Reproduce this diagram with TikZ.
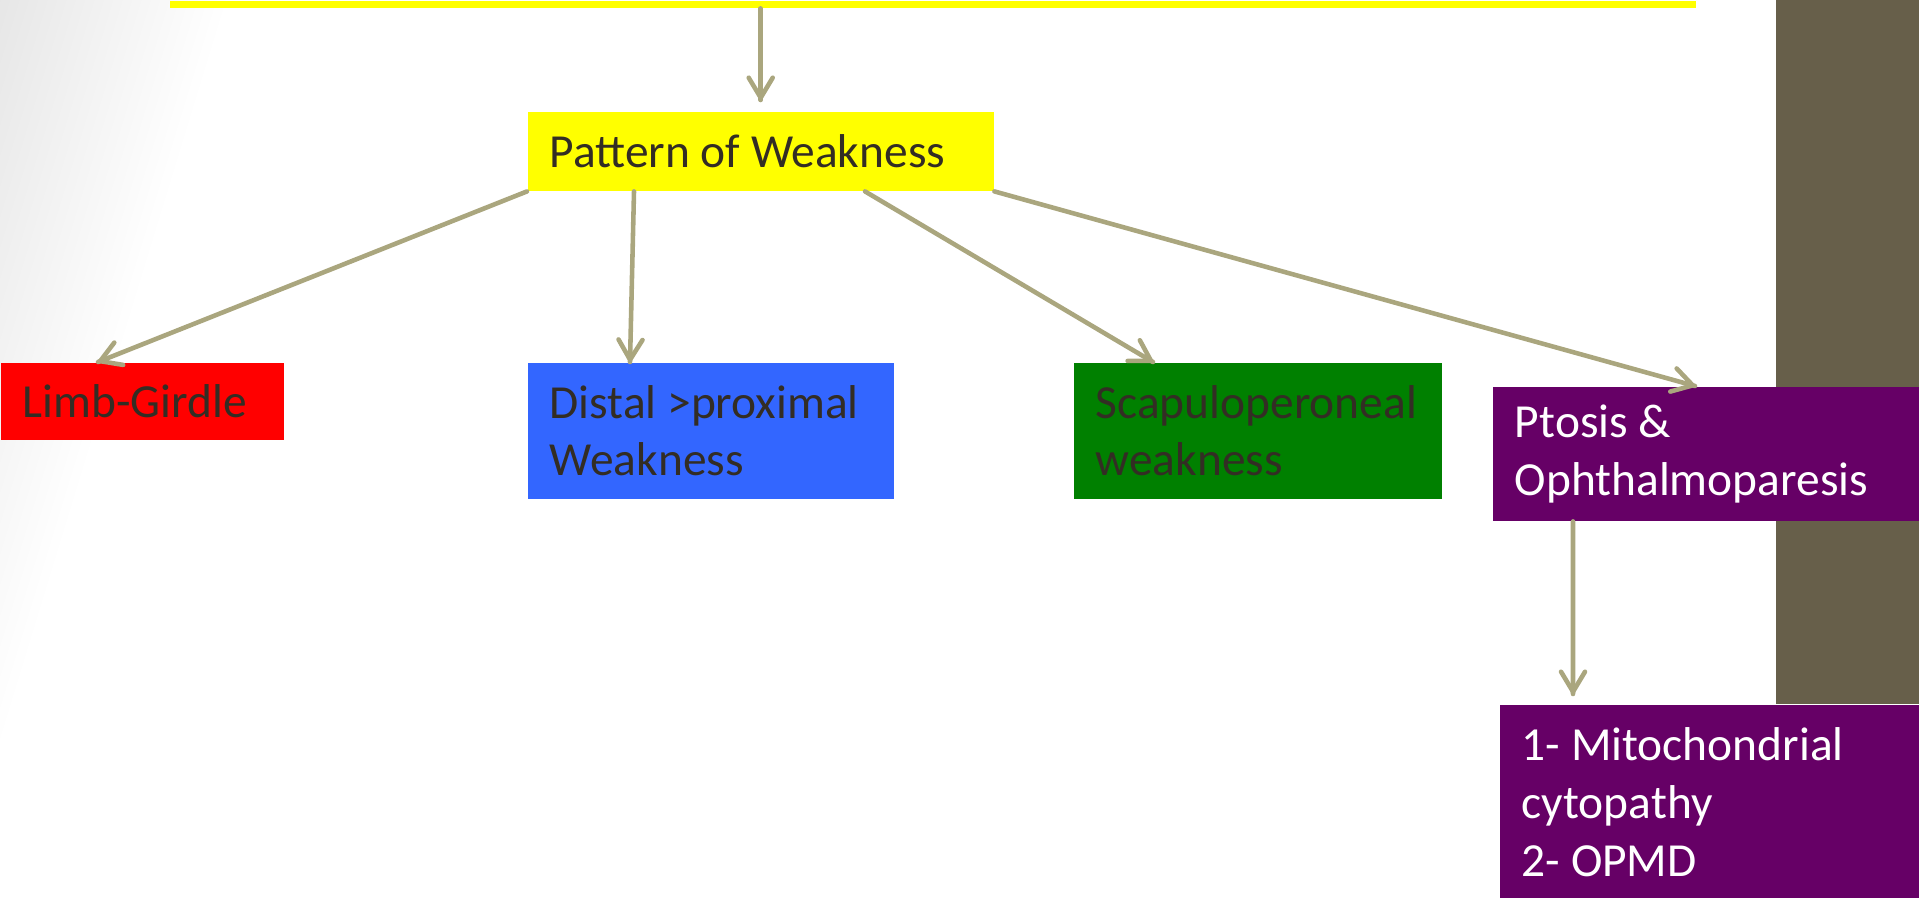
\documentclass[tikz,border=0pt]{standalone}
\usepackage{fontspec}
\setmainfont{Carlito}
\usetikzlibrary{arrows.meta}
\usetikzlibrary{decorations.markings}
\usetikzlibrary{positioning}
\definecolor{arrcol}{HTML}{AAA67E}
\definecolor{txtcol}{HTML}{332D24}
\definecolor{barcol}{HTML}{675F4A}
\definecolor{purplebox}{HTML}{660066}
\definecolor{bluebox}{HTML}{3366FF}
\definecolor{greenbox}{HTML}{008000}
\definecolor{yellowbox}{HTML}{FFFF00}
\tikzset{arr/.style = {draw=arrcol, line width=1.3pt, line cap=round,
                       decoration={markings,
                                   mark=at position 1 with {\arrow[arrcol, line width=1.3pt]{Straight Barb[length=2mm, width=2.4mm, round]}}},
                       postaction={decorate}}}
\tikzset{box/.style = {anchor=north west, inner xsep=0.22cm, inner ysep=0, align=flush left,
                       font=\fontsize{13.5}{16.5}\selectfont, text=txtcol}}

\begin{document}
\hyphenpenalty=10000 \exhyphenpenalty=10000
\begin{tikzpicture}
      \useasboundingbox (0,0) rectangle (19.19,-8.98);
      % background
      \begin{scope}
        \clip (0,0) rectangle (19.19,-8.98);
        \begin{scope}[transform canvas={rotate=-17}]
          \shade [left color=black!14, right color=white] (-1,3) rectangle (2.2,-12);
        \end{scope}
      \end{scope}
      \fill [barcol] (17.76,0) rectangle (19.19,-7.04);
      % boxes
      \node [box, fill=yellowbox, minimum width=15.26cm, minimum height=0.07cm, inner sep=0] (top) at (1.69,0) {};
      \node [box, fill=yellowbox, text width=4.22cm, minimum height=0.79cm] (pat) at (5.27,-1.11) {Pattern of Weakness};
      \node [box, fill=red, text width=2.39cm, minimum height=0.77cm] (limb) at (0,-3.62) {Limb-Girdle};
      \node [box, fill=bluebox, text width=3.22cm, minimum height=1.36cm] (distal) at (5.27,-3.62) {Distal >proximal\\Weakness};
      \node [box, fill=greenbox, text width=3.24cm, minimum height=1.36cm] (scap) at (10.73,-3.62) {Scapuloperoneal\\weakness};
      \node [box, fill=purplebox, text=white, text width=3.83cm, minimum height=1.34cm] (ptosis) at (14.92,-3.86) {Ptosis \&\\Ophthalmoparesis};
      \node [box, fill=purplebox, text=white, text width=3.76cm, minimum height=1.94cm] (mito) at (14.99,-7.04) {1- Mitochondrial\\cytopathy\\2- OPMD};
      % arrows
      \draw [arr] (top.south -| pat.north) -- ([yshift=0.11cm]pat.north);
      \draw [arr] (pat.south west) -- ([xshift=0.98cm]limb.north west);
      \draw [arr] ([xshift=1.07cm]pat.south west) -- ([xshift=1.03cm]distal.north west);
      \draw [arr] ([xshift=3.38cm]pat.south west) -- ([xshift=0.80cm]scap.north west);
      \draw [arr] (pat.south east) -- ([xshift=2.03cm]ptosis.north west);
      \draw [arr] ([xshift=0.81cm]ptosis.south west) -- ([xshift=0.74cm, yshift=0.10cm]mito.north west);
    \end{tikzpicture}
\end{document}
